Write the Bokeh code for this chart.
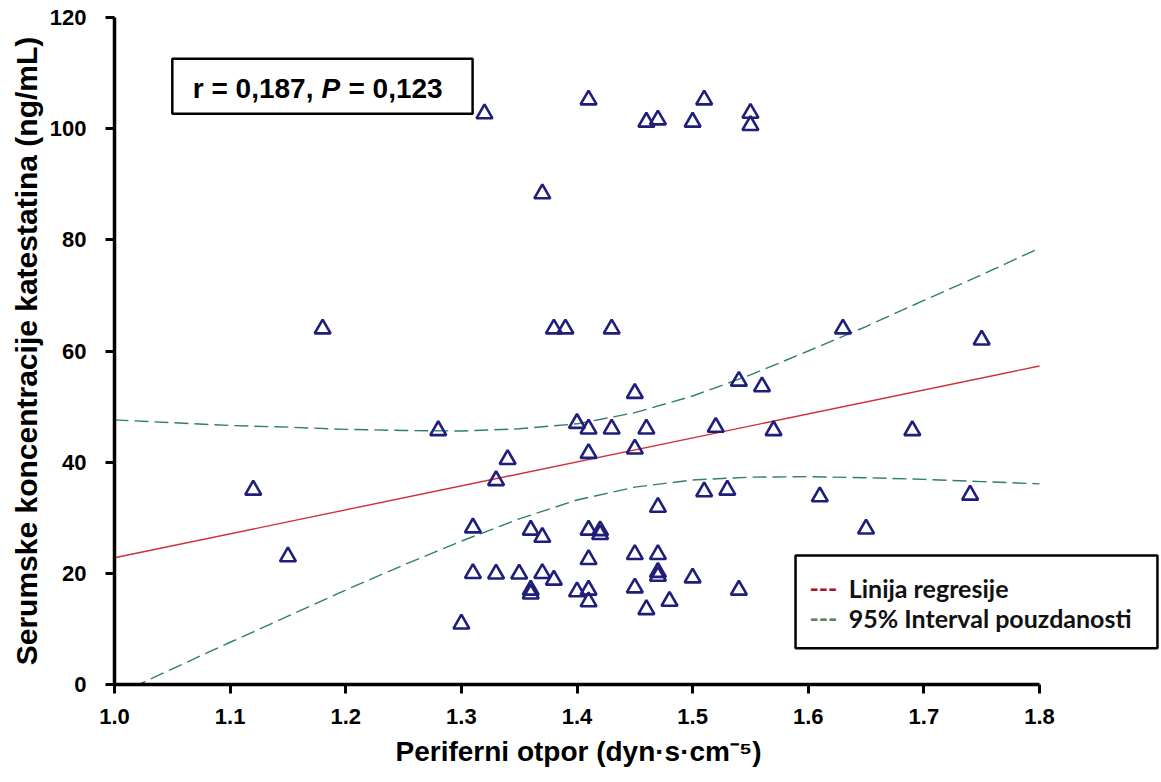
from bokeh.plotting import figure
from bokeh.models import Range1d, FixedTicker, BoxAnnotation, Label, Title
from bokeh.embed import file_html
from bokeh.resources import INLINE

# ---------------- data ----------------
otpor = [1.12, 1.15, 1.18, 1.28, 1.30, 1.31, 1.31, 1.32, 1.33, 1.33,
         1.34, 1.35, 1.36, 1.36, 1.36, 1.37, 1.37, 1.37, 1.38, 1.38,
         1.39, 1.40, 1.40, 1.41, 1.41, 1.41, 1.41, 1.41, 1.41, 1.41,
         1.43, 1.42, 1.42, 1.43, 1.45, 1.45, 1.45, 1.45, 1.46, 1.46,
         1.46, 1.47, 1.47, 1.47, 1.47, 1.47, 1.48, 1.50, 1.50, 1.51,
         1.51, 1.52, 1.53, 1.54, 1.54, 1.55, 1.55, 1.56, 1.57, 1.61,
         1.63, 1.65, 1.69, 1.74, 1.75]
katestatin = [35.0, 23.0, 64.0, 45.7, 10.9, 28.2, 20.0, 102.7, 36.7, 19.9,
              40.5, 19.9, 27.8, 17.0, 16.3, 88.3, 26.5, 20.0, 18.8, 64.0,
              64.0, 47.0, 16.7, 105.2, 46.0, 41.6, 27.8, 22.5, 17.0, 14.9,
              64.0, 27.7, 27.0, 46.0, 52.4, 42.4, 23.4, 17.4, 101.2, 46.0,
              13.5, 101.6, 31.9, 23.4, 20.2, 19.5, 15.0, 101.2, 19.2, 105.2,
              34.7, 46.3, 35.0, 54.6, 17.0, 102.8, 100.6, 53.6, 45.7, 33.8,
              64.0, 28.0, 45.7, 34.1, 62.0]

reg_x = [1.0, 1.8]
reg_y = [22.8, 57.3]

ci_x = [1.00, 1.05, 1.10, 1.15, 1.20, 1.25, 1.30, 1.35, 1.40, 1.45,
        1.50, 1.55, 1.60, 1.65, 1.70, 1.75, 1.80]
ci_upper = [47.6, 47.1, 46.6, 46.3, 45.9, 45.7, 45.6, 46.0, 46.9, 48.9,
            51.9, 55.7, 60.0, 64.4, 69.1, 73.7, 78.5]
ci_lower = [-2.0, 2.8, 7.6, 12.3, 17.0, 21.5, 25.8, 29.8, 33.2, 35.5,
            36.8, 37.3, 37.4, 37.2, 36.9, 36.5, 36.1]

x_ticks = [1.0, 1.1, 1.2, 1.3, 1.4, 1.5, 1.6, 1.7, 1.8]
x_tick_labels = ["1.0", "1.1", "1.2", "1.3", "1.4", "1.5", "1.6", "1.7", "1.8"]
y_ticks = [0, 20, 40, 60, 80, 100, 120]

x_label = "Periferni otpor (dyn·s·cm⁻⁵)"
y_label = "Serumske koncentracije katestatina (ng/mL)"
stat_left_text = "r = 0,187,"
stat_p_text = "P"
stat_right_text = "= 0,123"
legend_texts = ["Linija regresije", "95% Interval pouzdanosti"]

# ---------------- figure ----------------
# frame: 1.0 -> 114 px, 1.8 -> 1039 px; frame is extended to the right edge
# (invisible) so the legend box can sit beyond x = 1.8 as in the reference
W, H = 1160, 778
px_per_unit = (1039 - 114) / 0.8
x_end = 1.8 + (W - 1039) / px_per_unit

p = figure(width=W, height=H, output_backend="svg", toolbar_location=None,
           x_range=Range1d(1.0, x_end), y_range=Range1d(0, 120),
           min_border_left=114, min_border_right=0,
           min_border_top=17, min_border_bottom=H - 684,
           background_fill_color="white", border_fill_color="white")
p.outline_line_color = None
p.xgrid.visible = False
p.ygrid.visible = False

for ax in (p.xaxis[0], p.yaxis[0]):
    ax.axis_line_color = "black"
    ax.axis_line_width = 3.5
    ax.major_tick_line_color = "black"
    ax.major_tick_line_width = 3
    ax.major_tick_out = 9
    ax.major_tick_in = 0
    ax.minor_tick_line_color = None
    ax.major_label_text_font = "Liberation Sans"
    ax.major_label_text_font_style = "bold"
    ax.major_label_text_font_size = "22px"
    ax.major_label_text_color = "black"
    ax.axis_label_text_font = "Liberation Sans"
    ax.axis_label_text_font_style = "bold"
    ax.axis_label_text_color = "black"

p.xaxis.bounds = (1.0, 1.8)
p.xaxis.ticker = FixedTicker(ticks=x_ticks)
p.xaxis.major_label_overrides = {t: l for t, l in zip(x_ticks, x_tick_labels)}
p.yaxis.ticker = FixedTicker(ticks=y_ticks)
p.xaxis.major_label_standoff = 15
p.yaxis.major_label_standoff = 19
p.yaxis.axis_label = y_label
p.yaxis.axis_label_text_font_size = "30px"
p.yaxis.axis_label_standoff = 4

# x-axis title, positioned under the 1.0-1.8 span (frame extends further right)
p.add_layout(Title(text=x_label, align="left", offset=281, standoff=15,
                   text_font="Liberation Sans", text_font_size="28px",
                   text_font_style="bold", text_color="black"), "below")

# confidence interval and regression line
ci_color = "#2e7f6e"
p.line(ci_x, ci_upper, line_color=ci_color, line_width=1.4, line_dash="14 6")
p.line(ci_x, ci_lower, line_color=ci_color, line_width=1.4, line_dash="14 6")
p.line(reg_x, reg_y, line_color="#d03038", line_width=1.4)

# points
p.scatter(otpor, katestatin, marker="triangle", size=16, fill_color=None,
          line_color="#1f1f7a", line_width=2.6)

# statistics box
p.add_layout(BoxAnnotation(left=1.050, right=1.3097, bottom=102.7, top=112.6,
                           fill_color="white", fill_alpha=1.0,
                           line_color="black", line_alpha=1.0, line_width=2.5))
stat_x, stat_y = 1.179, 107.2
common = dict(text_font="Liberation Sans", text_font_size="28px",
              text_color="black", text_baseline="middle")
p.add_layout(Label(x=stat_x, y=stat_y, text=stat_left_text, text_align="right",
                   x_offset=-8, text_font_style="bold", **common))
p.add_layout(Label(x=stat_x, y=stat_y, text=stat_p_text, text_align="left",
                   text_font_style="bold italic", **common))
p.add_layout(Label(x=stat_x, y=stat_y, text=stat_right_text, text_align="left",
                   x_offset=27, text_font_style="bold", **common))

# legend box
p.add_layout(BoxAnnotation(left=1.589, right=1.902, bottom=6.5, top=23.2,
                           fill_color="white", fill_alpha=1.0,
                           line_color="black", line_alpha=1.0, line_width=2.5))
leg_common = dict(text_font="Lato", text_font_size="25px", text_font_style="bold",
                  text_baseline="middle")
for yy, col, txt in [(17.3, "#b01030", legend_texts[0]),
                     (11.9, "#5a8060", legend_texts[1])]:
    p.add_layout(Label(x=1.601, y=yy, text="---", text_color=col, **leg_common))
    p.add_layout(Label(x=1.635, y=yy, text=txt, text_color="#111111", **leg_common))

open("out.html", "w").write(file_html(p, INLINE))
